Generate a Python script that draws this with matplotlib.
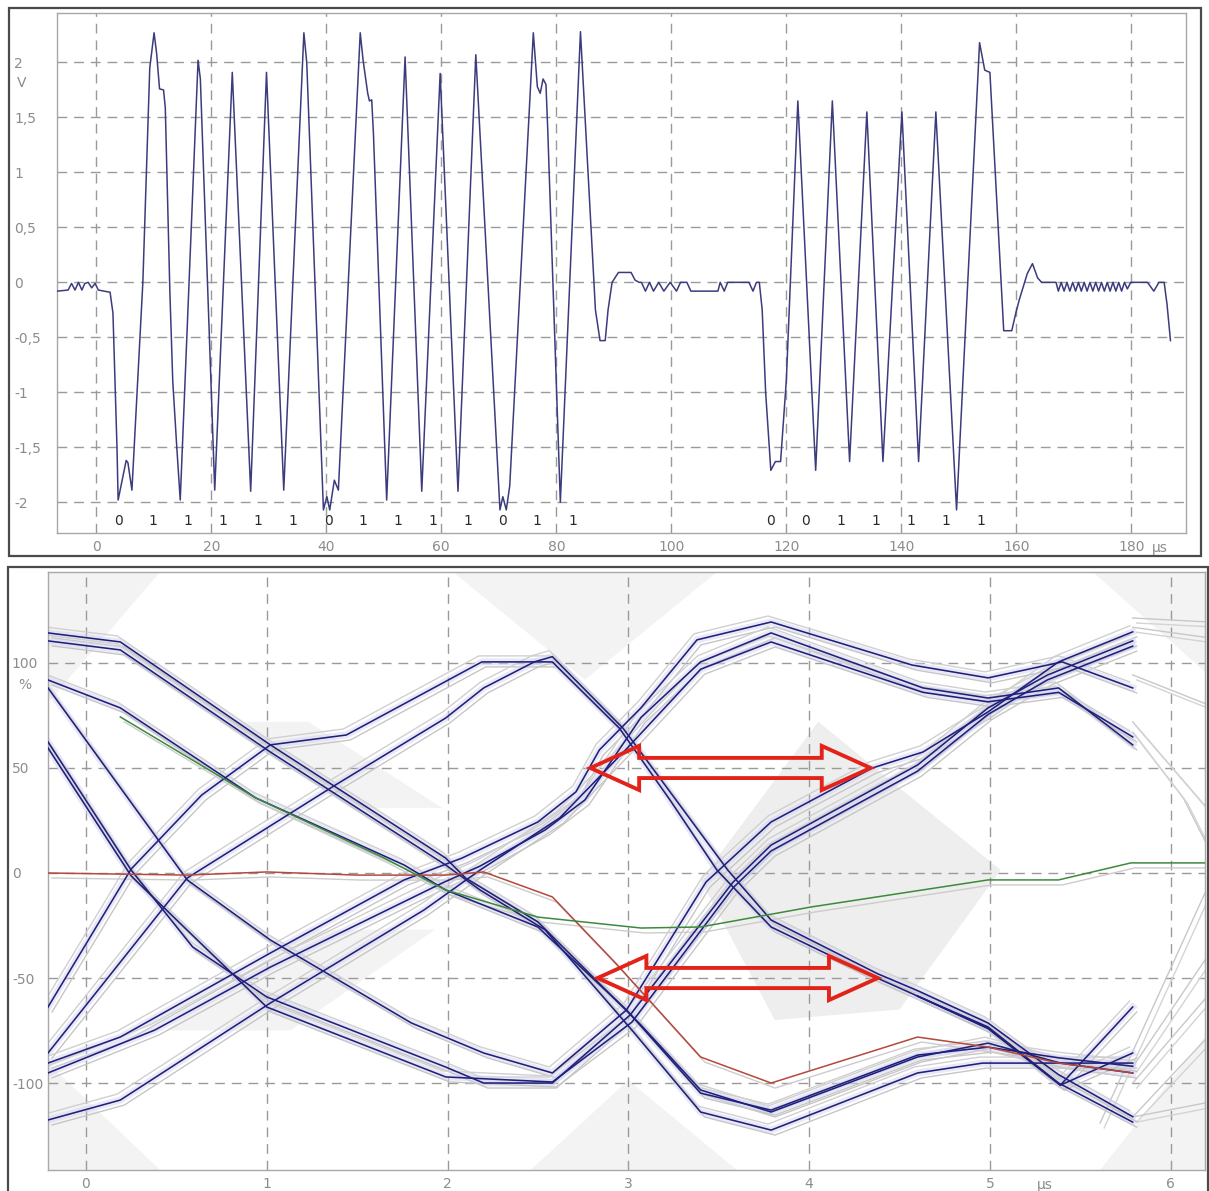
import matplotlib.pyplot as plt
from matplotlib.patches import Polygon, Rectangle
from matplotlib.transforms import offset_copy

plt.rcParams['font.family'] = ['DejaVu Sans']

W, H = 1209, 1191

# ---------------- top panel: burst signal (time in us, volts)
lead = [(-6.8, -0.08), (-4.9, -0.07), (-4.3, -0.01), (-3.7, -0.07), (-3.1, 0.0), (-2.5, -0.07),
        (-2.0, -0.01), (-1.4, 0.0), (-0.8, -0.05), (-0.2, -0.01), (0.35, -0.07), (2.4, -0.09)]

burst1 = [(2.9, -0.28), (3.6, -1.50), (3.8, -1.98), (4.5, -1.80), (5.2, -1.62), (5.5, -1.64), (6.2, -1.89),
          (8.1, 0.0), (9.3, 1.95), (10.05, 2.27), (10.5, 2.08), (11.0, 1.76), (11.7, 1.75), (12.0, 1.59),
          (12.8, -0.09), (13.3, -0.9), (14.0, -1.5), (14.6, -1.98),
          (17.7, 2.02), (18.1, 1.85), (20.6, -1.89), (23.65, 1.91), (26.85, -1.9), (29.6, 1.91),
          (32.6, -1.89), (36.1, 2.27), (36.6, 2.0),
          (39.5, -2.07), (40.1, -1.95), (40.6, -2.07), (41.4, -1.8), (42.1, -1.89),
          (45.9, 2.27), (46.4, 2.02), (47.2, 1.72), (47.5, 1.65), (47.9, 1.66), (48.2, 1.35), (50.5, -1.98),
          (53.7, 2.05), (56.6, -1.9), (59.8, 1.9), (62.9, -1.9), (66.0, 2.07),
          (70.2, -2.07), (70.7, -1.95), (71.3, -2.07), (71.9, -1.85),
          (76.0, 2.27), (76.7, 1.78), (77.2, 1.72), (77.7, 1.85), (78.2, 1.8), (78.5, 1.4), (80.7, -2.0),
          (84.2, 2.28), (86.8, -0.25), (87.6, -0.53), (88.5, -0.53), (89.0, -0.25), (89.7, 0.0),
          (90.8, 0.09), (93.0, 0.09), (93.7, 0.02), (94.4, 0.0)]

gap = [(94.8, 0.0), (95.5, -0.08), (96.2, 0.0), (96.9, -0.08), (97.8, 0.0), (98.7, -0.08), (99.8, 0.0),
       (100.9, -0.08), (101.6, 0.0), (102.7, 0.0), (103.4, -0.08), (108.1, -0.08), (108.5, 0.0),
       (109.2, -0.08), (109.8, 0.0), (113.5, 0.0), (114.2, -0.08), (114.8, 0.0), (115.3, 0.0)]

burst2 = [(115.8, -0.25), (116.4, -1.0), (117.3, -1.71), (118.1, -1.63), (119.0, -1.63), (120.0, -0.89),
          (122.0, 1.65), (125.1, -1.71), (128.0, 1.65), (131.0, -1.63), (134.0, 1.55), (136.8, -1.63),
          (140.1, 1.55), (143.0, -1.63), (146.0, 1.55), (149.6, -2.07), (153.6, 2.18), (154.5, 1.93),
          (155.4, 1.91), (157.8, -0.44), (159.2, -0.44), (159.9, -0.28), (160.5, -0.16), (161.2, -0.04),
          (161.9, 0.08), (162.8, 0.17), (163.7, 0.04), (164.4, 0.0), (166.9, 0.0)]

tail = [(167.3, -0.08), (167.8, 0.0), (168.3, -0.08), (168.8, 0.0), (169.3, -0.08), (169.8, 0.0),
        (170.3, -0.08), (170.8, 0.0), (171.3, -0.08), (171.8, 0.0), (172.3, -0.08), (172.8, 0.0),
        (173.3, -0.08), (173.8, 0.0), (174.3, -0.08), (174.8, 0.0), (175.3, -0.08), (175.8, 0.0),
        (176.3, -0.08), (176.8, 0.0), (177.3, -0.08), (177.8, 0.0), (178.3, -0.08), (178.8, 0.0),
        (179.3, -0.06), (179.9, 0.0), (182.8, 0.0), (183.9, -0.08), (184.8, 0.0), (185.7, 0.0),
        (186.2, -0.2), (186.8, -0.53)]

bits_a = ["0", "1", "1", "1", "1", "1", "0", "1", "1", "1", "1", "0", "1", "1"]
bits_a_t = [3.8, 9.9, 15.9, 22.0, 28.1, 34.2, 40.3, 46.3, 52.4, 58.5, 64.6, 70.7, 76.7, 82.8]
bits_b = ["0", "0", "1", "1", "1", "1", "1"]
bits_b_t = [117.3, 123.4, 129.5, 135.6, 141.7, 147.8, 153.8]

top_xticks = [0, 20, 40, 60, 80, 100, 120, 140, 160, 180]
top_yticks = [2, 1.5, 1, 0.5, 0, -0.5, -1, -1.5, -2]
top_ylabels = ["2", "1,5", "1", "0,5", "0", "-0,5", "-1", "-1,5", "-2"]

# ---------------- bottom panel: eye diagram (time in us, percent)
s1 = [(-0.21, 114.3), (0.19, 110.0), (1.02, 61.0), (1.99, 7.1), (2.10, -2.4), (2.50, -23.3), (3.07, -72.4),
      (3.40, -103.3), (3.79, -113.8), (4.60, -87.6), (4.99, -81.0), (5.39, -90.5), (5.79, -95.2)]
s2 = [(-0.21, 110.5), (0.19, 106.2), (1.02, 57.6), (1.99, 3.8), (2.18, -8.1), (2.54, -27.1), (3.02, -74.8),
      (3.40, -113.8), (3.79, -122.4), (4.60, -95.2), (4.96, -90.5), (5.79, -90.5)]
s3 = [(-0.21, 91.9), (0.19, 78.6), (0.94, 35.7), (1.76, 3.8), (1.99, -8.1), (2.50, -25.7), (2.99, -65.2),
      (3.40, -104.8), (3.79, -112.9), (4.60, -86.7), (4.99, -82.9), (5.38, -88.0), (5.79, -92.0)]
s4 = [(-0.21, 88.1), (0.56, -3.3), (1.02, -31.9), (1.80, -71.4), (2.20, -85.7), (2.58, -95.2), (2.99, -65.2),
      (3.43, -4.3), (3.79, 24.3), (4.35, 50.0), (4.63, 57.6), (4.99, 76.7), (5.38, 100.5), (5.79, 114.8)]
s5 = [(-0.21, 62.4), (0.25, 1.4), (0.59, -35.2), (1.00, -59.0), (1.99, -92.4), (2.20, -100.0), (2.58, -100.0),
      (3.01, -67.6), (3.58, -4.3), (3.79, 13.3), (4.60, 51.4), (4.99, 78.6), (5.32, 94.3), (5.79, 110.5)]
s6 = [(-0.21, 59.5), (0.25, -1.4), (1.00, -63.8), (1.99, -97.1), (2.58, -99.5), (3.02, -71.0), (3.58, -7.0),
      (3.79, 10.5), (4.60, 48.5), (4.99, 75.5), (5.32, 92.0), (5.79, 108.0)]
s7 = [(-0.21, -63.8), (0.25, 1.9), (0.64, 37.1), (1.02, 61.0), (1.44, 65.7), (2.19, 100.5), (2.58, 100.5),
      (2.95, 69.0), (3.23, 34.8), (3.49, 1.4), (3.79, -25.7), (4.35, -49.0), (4.60, -58.6), (4.99, -73.3),
      (5.38, -100.0), (5.79, -118.6)]
s8 = [(-0.21, -85.7), (0.56, -2.4), (1.38, 41.9), (1.99, 73.8), (2.20, 88.1), (2.48, 100.5), (2.58, 103.0),
      (2.97, 69.0), (3.55, 1.4), (3.79, -22.4), (4.38, -48.0), (4.60, -56.0), (4.99, -71.4), (5.38, -96.0),
      (5.79, -116.0)]
s9 = [(-0.21, -90.5), (0.19, -78.1), (1.02, -38.1), (1.76, -3.3), (2.08, 7.1), (2.50, 24.3), (2.71, 38.6),
      (2.84, 58.6), (3.07, 78.6), (3.38, 111.0), (3.79, 119.5), (4.57, 99.0), (4.99, 92.9), (5.40, 100.5),
      (5.79, 88.1)]
s10 = [(-0.21, -95.2), (0.38, -74.8), (1.02, -44.8), (1.97, -4.8), (2.18, 3.3), (2.54, 20.5), (2.76, 34.8),
       (3.07, 74.0), (3.40, 100.5), (3.79, 114.3), (4.63, 88.1), (4.99, 83.3), (5.38, 88.1), (5.79, 61.0)]
s11 = [(-0.21, -117.6), (0.19, -108.1), (1.02, -61.9), (1.87, -17.6), (2.18, 1.4), (2.62, 26.2), (3.00, 60.0),
       (3.40, 97.0), (3.79, 110.0), (4.63, 86.0), (4.99, 81.5), (5.38, 86.0), (5.79, 64.8)]
s12 = [(4.60, -58.6), (4.99, -74.0), (5.39, -101.0), (5.79, -63.8)]
s13 = [(4.60, -58.6), (4.99, -74.0), (5.39, -101.0), (5.79, -85.7)]
blue_traces = [s1, s2, s3, s4, s5, s6, s7, s8, s9, s10, s11, s12, s13]

red_trace = [(-0.21, 0.0), (0.56, -1.0), (1.00, 0.5), (1.50, -1.0), (1.99, -1.0), (2.20, 0.5), (2.58, -11.4),
             (2.93, -42.9), (3.40, -87.6), (3.79, -100.0), (4.60, -78.1), (4.99, -82.9), (5.38, -90.5),
             (5.79, -95.2)]
green_trace = [(0.19, 74.3), (0.94, 35.7), (1.65, 7.1), (1.99, -8.1), (2.50, -21.0), (3.07, -26.2),
               (3.40, -25.7), (4.01, -16.2), (4.99, -3.3), (5.38, -3.3), (5.78, 4.8), (6.19, 4.8)]

# faint older sweeps that run past the end of the blue traces
gray_tails = [
    [(5.79, 121.4), (6.21, 119.5)],
    [(5.79, 117.0), (6.21, 112.0)],
    [(5.79, 94.3), (6.21, 80.0)],
    [(5.79, 67.1), (6.07, 35.7), (6.21, 11.9)],
    [(5.79, 72.0), (6.21, 30.0)],
    [(5.61, -119.0), (6.19, -9.5)],
    [(5.79, -92.4), (6.19, -41.4)],
    [(5.79, -100.0), (6.19, -60.0)],
    [(5.79, -116.2), (6.19, -79.5)],
    [(5.79, -116.2), (6.19, -109.5)],
]

# light grey mask shapes in the eye background
mask_light = [
    [(-0.21, 143.3), (0.41, 143.3), (-0.21, 81)],
    [(-0.21, -90.5), (-0.21, -141.4), (0.41, -141.4)],
    [(2.03, 143.3), (3.49, 143.3), (2.76, 92)],
    [(2.46, -141.4), (3.0, -98.6), (3.6, -141.4)],
    [(5.57, 143.3), (6.19, 143.3), (6.19, 95.7)],
    [(5.61, -141.4), (6.19, -78), (6.19, -141.4)],
    [(0.74, 72), (1.23, 72), (1.97, 31), (1.48, 31)],
    [(1.23, -27), (1.93, -27), (1.13, -75), (0.44, -75)],
]
mask_dark = [(3.40, -3.3), (4.05, 72), (5.06, 1.4), (4.5, -65), (3.81, -70)]

# double arrows: (left tip, right tip, level)
arrows = [(2.79, 4.34, 50.0), (2.83, 4.38, -50.0)]

eye_xticks = [0, 1, 2, 3, 4, 5, 6]
eye_yticks = [100, 50, 0, -50, -100]

GRID = '#9a9a9a'
LABEL = '#8c8c8c'


def px_rect(l, t, r, b):
    return [l / W, 1 - b / H, (r - l) / W, (b - t) / H]


def xy(points):
    return [p[0] for p in points], [p[1] for p in points]


def dashed_grid(ax, xs, ys):
    for x in xs:
        ax.axvline(x, color=GRID, lw=1.0, dashes=(7, 5), zorder=1)
    for y in ys:
        ax.axhline(y, color=GRID, lw=1.0, dashes=(7, 5), zorder=1)


def style_axes(ax, ypad):
    for sp in ax.spines.values():
        sp.set_color('#a8a8a8')
        sp.set_linewidth(1.0)
    ax.tick_params(length=0, colors=LABEL, labelsize=10)
    ax.tick_params(axis='y', pad=ypad)
    ax.tick_params(axis='x', pad=5)
    for lab in ax.get_yticklabels():
        lab.set_horizontalalignment('left')


fig = plt.figure(figsize=(W / 100, H / 100), dpi=100)

# outer frames
fig.add_artist(Rectangle((9 / W, 1 - 556 / H), (1201 - 9) / W, (556 - 8) / H,
                         transform=fig.transFigure, fill=False, ec='#4a4a4a', lw=1.6))
fig.add_artist(Rectangle((8 / W, -0.02), (1208 - 8) / W, 1 - 567 / H + 0.02,
                         transform=fig.transFigure, fill=False, ec='#4a4a4a', lw=1.6))

# ---------- top
ax1 = fig.add_axes(px_rect(57, 13, 1186, 533))
ax1.set_xlim(-6.83, 189.5)
ax1.set_ylim(-2.28, 2.45)
dashed_grid(ax1, top_xticks, top_yticks)
wt, wv = xy(lead + burst1 + gap + burst2 + tail)
ax1.plot(wt, wv, color='#3b3b7e', lw=1.1, zorder=3)
for b, t in zip(bits_a, bits_a_t):
    ax1.text(t, -2.17, b, ha='center', va='center', fontsize=10, color='#2a2a2a')
for b, t in zip(bits_b, bits_b_t):
    ax1.text(t, -2.17, b, ha='center', va='center', fontsize=10, color='#2a2a2a')
ax1.set_xticks(top_xticks, [str(x) for x in top_xticks])
ax1.set_yticks(top_yticks, top_ylabels)
style_axes(ax1, 31)
fig.text(22 / W, 1 - 83 / H, 'V', ha='center', va='center', fontsize=10, color=LABEL)
fig.text(1152 / W, 1 - 548 / H, 'µs', ha='left', va='center', fontsize=10, color=LABEL)

# ---------- bottom
ax2 = fig.add_axes(px_rect(48, 572, 1205, 1170))
ax2.set_xlim(-0.21, 6.19)
ax2.set_ylim(-141.4, 143.3)
for poly in mask_light:
    ax2.add_patch(Polygon(poly, closed=True, fc='#f3f3f3', ec='none', zorder=0))
ax2.add_patch(Polygon(mask_dark, closed=True, fc='#eeeeee', ec='none', zorder=0))
dashed_grid(ax2, eye_xticks, eye_yticks)

sh_a = offset_copy(ax2.transData, fig=fig, x=4, y=-5, units='dots')
sh_b = offset_copy(ax2.transData, fig=fig, x=-3, y=6, units='dots')

for tr in gray_tails:
    tx, tv = xy(tr)
    ax2.plot(tx, tv, color='#c8c8c8', lw=1.0, zorder=2)
    ax2.plot(tx, tv, color='#d4d4d4', lw=1.0, transform=sh_a, zorder=2)

for tr in blue_traces:
    tx, tv = xy(tr)
    ax2.plot(tx, tv, color='#d2d2f0', lw=5, alpha=0.5, solid_joinstyle='round', zorder=2)
    ax2.plot(tx, tv, color='#c6c6c6', lw=1.0, transform=sh_a, zorder=2)
    ax2.plot(tx, tv, color='#d0d0d0', lw=1.0, transform=sh_b, zorder=2)

for tr, col in ((red_trace, '#b5483c'), (green_trace, '#3c8a3c')):
    tx, tv = xy(tr)
    ax2.plot(tx, tv, color='#cccccc', lw=1.0, transform=sh_a, zorder=2)
    ax2.plot(tx, tv, color=col, lw=1.1, zorder=4)

for tr in blue_traces:
    tx, tv = xy(tr)
    ax2.plot(tx, tv, color='#20207a', lw=1.15, zorder=3)

hl, hh, sh = 0.27, 10.5, 4.8
for x0, x1, y in arrows:
    pts = [(x0, y), (x0 + hl, y + hh), (x0 + hl, y + sh), (x1 - hl, y + sh), (x1 - hl, y + hh), (x1, y),
           (x1 - hl, y - hh), (x1 - hl, y - sh), (x0 + hl, y - sh), (x0 + hl, y - hh)]
    ax2.add_patch(Polygon(pts, closed=True, fill=False, ec='#e2231a', lw=2.8, joinstyle='miter', zorder=5))

ax2.set_xticks(eye_xticks, [str(x) for x in eye_xticks])
ax2.set_yticks(eye_yticks, [str(y) for y in eye_yticks])
style_axes(ax2, 26)
fig.text(25 / W, 1 - 685 / H, '%', ha='center', va='center', fontsize=10, color=LABEL)
fig.text(1045 / W, 1 - 1185 / H, 'µs', ha='center', va='center', fontsize=10, color=LABEL)

fig.savefig('out.png', dpi=100)
